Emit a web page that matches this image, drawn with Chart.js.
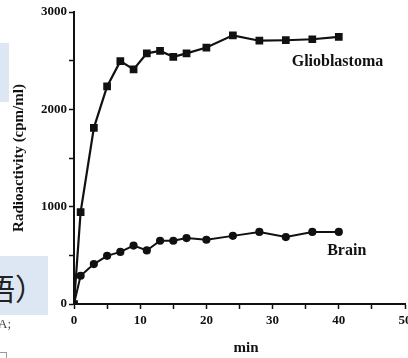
<!DOCTYPE html>
<html>
<head>
<meta charset="utf-8">
<script src="https://cdn.jsdelivr.net/npm/chart.js@4.4.1/dist/chart.umd.min.js"></script>
<style>
  html, body { margin: 0; padding: 0; background: #fff; overflow: hidden; width: 408px; height: 358px; }
  #wrap { position: relative; width: 408px; height: 358px; overflow: hidden; }
  canvas { position: absolute; left: 0; top: 0; }
  .box { position: absolute; background: #dde6f3; }
  .cjk { position: absolute; font-family: "Noto Sans CJK SC"; font-size: 30px; line-height: 30px; color: #222; white-space: nowrap; }
  .small { position: absolute; font-family: "Liberation Serif"; font-size: 13px; color: #444; }
</style>
</head>
<body>
<div id="wrap">
  <canvas id="c" width="420" height="358" style="width:420px;height:358px"></canvas>
  <div class="box" style="left:0;top:43px;width:9px;height:59px"></div>
  <div class="box" style="left:0;top:256px;width:48px;height:59px"></div>
  <div style="position:absolute;left:0;top:256px;width:48px;height:59px;overflow:hidden">
    <div class="cjk" style="left:-15px;top:16px">语）</div>
  </div>
  <div class="small" style="left:-2px;top:316px">A;</div>
  <div style="position:absolute;left:0;top:352px;width:6px;height:8px;border:1px solid #999;border-left:none"></div>
</div>
<script>
// Data (minutes vs radioactivity, cpm/ml)
const minutes = [0, 1, 3, 5, 7, 9, 11, 13, 15, 17, 20, 24, 28, 32, 36, 40];
const glioblastoma = [0, 945, 1810, 2235, 2495, 2410, 2575, 2600, 2540, 2575, 2635, 2760, 2705, 2710, 2720, 2745];
const brain = [0, 290, 410, 495, 535, 600, 550, 650, 650, 677, 660, 700, 740, 688, 740, 740];
const seriesNames = ["Glioblastoma", "Brain"];
const xTicks = [0, 10, 20, 30, 40, 50];
const yTicks = [0, 1000, 2000, 3000];
const xTitle = "min";
const yTitle = "Radioactivity (cpm/ml)";
// label anchors in data units (min, cpm/ml)
const labelAnchors = [[39.8, 2490], [41.2, 545]];

const toPts = (xs, ys) => xs.map((x, i) => ({ x: x, y: ys[i] }));

const serif = "'Liberation Serif', 'Times New Roman', serif";

const seriesLabels = {
  id: 'seriesLabels',
  afterDatasetsDraw(chart) {
    const { ctx, scales, chartArea } = chart;
    ctx.save();
    ctx.fillStyle = '#111';
    ctx.font = "bold 16px " + serif;
    ctx.textAlign = 'center';
    ctx.textBaseline = 'middle';
    seriesNames.forEach((name, i) => {
      ctx.fillText(name, scales.x.getPixelForValue(labelAnchors[i][0]), scales.y.getPixelForValue(labelAnchors[i][1]));
    });
    // x axis title, slightly right of centre as in the original figure
    ctx.font = "bold 15px " + serif;
    ctx.fillText(xTitle, scales.x.getPixelForValue(26), chartArea.bottom + 44);
    ctx.restore();
  }
};

new Chart(document.getElementById('c'), {
  type: 'line',
  data: {
    datasets: [
      {
        label: seriesNames[0],
        data: toPts(minutes, glioblastoma),
        borderColor: '#111', backgroundColor: '#111',
        borderWidth: 2.2, pointStyle: 'rect', pointRadius: 3.9,
        tension: 0
      },
      {
        label: seriesNames[1],
        data: toPts(minutes, brain),
        borderColor: '#111', backgroundColor: '#111',
        borderWidth: 2, pointStyle: 'circle', pointRadius: 3.1,
        tension: 0
      }
    ]
  },
  options: {
    responsive: false,
    animation: false,
    events: [],
    layout: { padding: { left: 0, right: 15, top: 12, bottom: 0 } },
    plugins: { legend: { display: false }, tooltip: { enabled: false } },
    scales: {
      x: {
        type: 'linear', min: 0, max: 50,
        afterFit(s) { s.height = 54; },
        border: { color: '#111', width: 2 },
        grid: { drawOnChartArea: false, drawTicks: true, tickLength: 5, color: '#111', tickWidth: 1.5 },
        ticks: {
          stepSize: 5, padding: 4, color: '#111',
          font: { family: serif, size: 13, weight: 'bold' },
          maxRotation: 0, autoSkip: false,
          callback: (v) => xTicks.includes(v) ? String(v) : ''
        },
        title: { display: false }
      },
      y: {
        type: 'linear', min: 0, max: 3000,
        afterFit(s) { s.width = 74; },
        border: { color: '#111', width: 2 },
        grid: { drawOnChartArea: false, drawTicks: true, tickLength: 5, color: '#111', tickWidth: 1.5 },
        ticks: {
          stepSize: 500, padding: 2, color: '#111',
          font: { family: serif, size: 13, weight: 'bold' },
          autoSkip: false,
          callback: (v) => yTicks.includes(v) ? String(v) : ''
        },
        title: { display: true, text: yTitle, color: '#111', padding: { top: 10, bottom: 0 },
                 font: { family: serif, size: 15, weight: 'bold' } }
      }
    }
  },
  plugins: [seriesLabels]
});
</script>
</body>
</html>
